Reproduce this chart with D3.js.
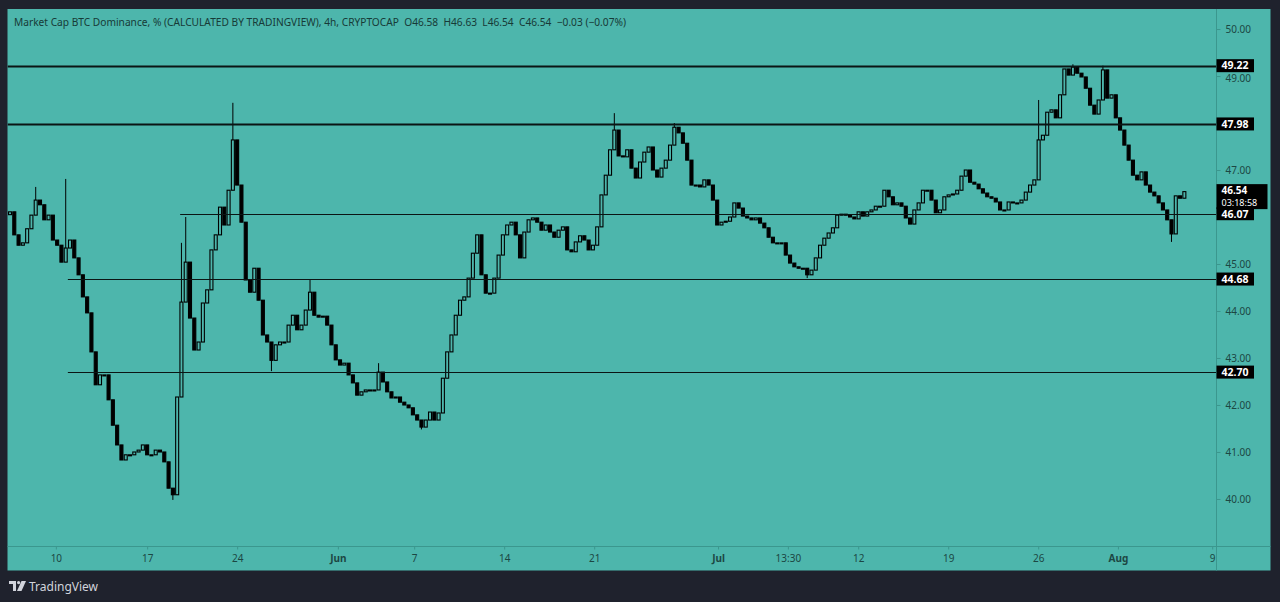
<!DOCTYPE html>
<html>
<head>
<meta charset="utf-8">
<title>Market Cap BTC Dominance</title>
<script src="https://cdn.jsdelivr.net/npm/d3@7"></script>
<style>
  html, body { margin: 0; padding: 0; background: #1f222d; }
  svg { display: block; font-family: "Noto Sans", "DejaVu Sans", sans-serif; }
</style>
</head>
<body>
<svg id="chart" width="1280" height="602"></svg>
<script>
// 8h bars, close of each bar (open = previous close)
const firstOpen = 46.05;
const closes = [
  46.11, 45.62, 45.40, 45.45, 45.75, 46.04, 46.36, 46.26, 45.94, 46.04,
  45.51, 45.40, 45.04, 45.34, 45.51, 45.13, 44.77, 44.30, 43.96, 43.13,
  42.43, 42.64, 42.64, 42.11, 41.57, 41.15, 40.83, 40.94, 40.94, 41.00,
  41.04, 41.15, 40.94, 40.94, 41.04, 41.00, 40.79, 40.23, 40.09, 42.17,
  44.19, 45.04, 43.85, 43.17, 43.34, 44.17, 44.45, 45.30, 45.62, 46.21,
  45.83, 46.57, 47.64, 46.68, 45.89, 44.66, 44.40, 44.91, 44.23, 43.49,
  43.34, 42.95, 43.28, 43.34, 43.34, 43.70, 43.91, 43.60, 43.70, 44.02,
  44.40, 43.91, 43.87, 43.89, 43.70, 43.28, 42.96, 42.85, 42.89, 42.64,
  42.47, 42.21, 42.28, 42.32, 42.32, 42.32, 42.70, 42.49, 42.28, 42.15,
  42.17, 42.06, 42.00, 41.94, 41.79, 41.68, 41.53, 41.68, 41.85, 41.68,
  41.83, 42.57, 43.13, 43.49, 43.91, 44.23, 44.30, 44.70, 45.23, 45.62,
  44.77, 44.38, 44.38, 44.70, 45.19, 45.62, 45.83, 45.89, 45.62, 45.13,
  45.68, 45.94, 45.98, 45.89, 45.72, 45.83, 45.68, 45.57, 45.72, 45.79,
  45.30, 45.26, 45.47, 45.60, 45.51, 45.30, 45.40, 45.79, 46.47, 46.89,
  47.43, 47.85, 47.30, 47.28, 47.43, 47.04, 46.83, 47.17, 47.38, 47.49,
  47.00, 46.85, 47.04, 47.21, 47.53, 47.91, 47.79, 47.57, 47.21, 46.68,
  46.68, 46.64, 46.79, 46.68, 46.36, 45.83, 45.89, 45.91, 46.00, 46.30,
  46.19, 46.02, 45.98, 45.94, 45.98, 45.87, 45.77, 45.57, 45.45, 45.45,
  45.45, 45.19, 45.02, 44.94, 44.91, 44.91, 44.77, 44.87, 45.13, 45.40,
  45.55, 45.66, 45.77, 46.04, 46.06, 46.04, 46.00, 45.96, 46.11, 46.02,
  46.11, 46.15, 46.23, 46.23, 46.57, 46.43, 46.26, 46.30, 46.23, 45.98,
  45.85, 46.15, 46.30, 46.57, 46.57, 46.36, 46.09, 46.15, 46.43, 46.47,
  46.49, 46.57, 46.87, 47.00, 46.74, 46.70, 46.60, 46.51, 46.43, 46.40,
  46.32, 46.15, 46.15, 46.32, 46.30, 46.30, 46.36, 46.53, 46.68, 46.79,
  47.64, 47.74, 48.23, 48.28, 48.11, 48.60, 49.15, 49.02, 49.19, 49.06,
  48.98, 48.74, 48.38, 48.19, 48.49, 49.13, 48.53, 48.60, 48.11, 47.85,
  47.53, 47.21, 46.89, 46.79, 46.96, 46.68, 46.53, 46.45, 46.30, 46.15,
  45.94, 45.64, 46.45, 46.40, 46.54
];

// bars whose wick reaches past the body
const wickBars  = [6, 13, 38, 40, 41, 52, 61, 70, 86, 96, 141, 155, 186, 240, 248, 255, 271];
const wickHighs = [46.64, 46.81, null, 45.45, 46.00, 48.43, null, 44.66, 42.89, null, 48.21, 48.00, null, 48.49, 49.25, 49.22, null];
const wickLows  = [null, null, 39.98, null, null, null, 42.72, null, null, 41.48, null, null, 44.70, null, null, null, 45.47];

// horizontal levels and the bar where each one starts
const levels = [49.22, 47.98, 46.07, 44.68, 42.70];
const levelStartBar = [-1, -1, 39.7, 13.5, 13.5];

const priceTicks = [40, 41, 42, 43, 44, 45, 47, 49, 50];
const timeLabels = ["10", "17", "24", "Jun", "7", "14", "21", "Jul", "13:30", "12", "19", "26", "Aug", "9"];
const timeBars = [10.7, 32.0, 53.0, 76.5, 94.3, 115.3, 136.3, 165.2, 181.5, 197.9, 218.9, 239.9, 258.5, 280.5];
const monthLabels = ["Jun", "Jul", "Aug"];

const lastPrice = 46.54;
const countdown = "03:18:58";
const header = "Market Cap BTC Dominance, % (CALCULATED BY TRADINGVIEW), 4h, CRYPTOCAP  O46.58  H46.63  L46.54  C46.54  \u22120.03 (\u22120.07%)";

// ---------------------------------------------------------------
const teal = "#4db6ac";
const axisLine = "#3b978e";
const axisText = "#1c4743";
const heavy = new Set([49.22, 47.98]);

const plotL = 7.5, plotR = 1216.5, plotT = 9, plotB = 546.5;
const svg = d3.select("#chart");

svg.append("rect").attr("x", 7.5).attr("y", 9).attr("width", 1263).attr("height", 561.5).attr("fill", teal);

const x = d3.scaleLinear().domain([-0.583, 281.5]).range([plotL, plotR]);
const y = d3.scaleLinear().domain([38.989, 50.426]).range([plotB, plotT]);

// candles
const bars = closes.map((c, i) => {
  const o = i === 0 ? firstOpen : closes[i - 1];
  let h = Math.max(o, c), l = Math.min(o, c);
  const k = wickBars.indexOf(i);
  if (k >= 0) {
    if (wickHighs[k] != null) h = Math.max(h, wickHighs[k]);
    if (wickLows[k] != null) l = Math.min(l, wickLows[k]);
  }
  return { i, o, c, h, l };
});

svg.append("clipPath").attr("id", "plot")
  .append("rect").attr("x", plotL).attr("y", plotT).attr("width", plotR - plotL).attr("height", plotB - plotT);

const g = svg.append("g").attr("clip-path", "url(#plot)");

g.selectAll("line.wick").data(bars).join("line")
  .attr("class", "wick")
  .attr("x1", d => x(d.i)).attr("x2", d => x(d.i))
  .attr("y1", d => y(d.h)).attr("y2", d => y(d.l))
  .attr("stroke", "#000").attr("stroke-width", 1);

const bw = 3;
g.selectAll("rect.body").data(bars).join("rect")
  .attr("class", "body")
  .attr("x", d => x(d.i) - bw / 2)
  .attr("width", bw)
  .attr("y", d => y(Math.max(d.o, d.c)))
  .attr("height", d => Math.max(1, Math.abs(y(d.o) - y(d.c))))
  .attr("fill", d => d.c >= d.o ? teal : "#000")
  .attr("stroke", "#000").attr("stroke-width", 1.1);

// level lines
g.selectAll("line.level").data(levels).join("line")
  .attr("class", "level")
  .attr("x1", (d, i) => levelStartBar[i] < 0 ? plotL : x(levelStartBar[i]))
  .attr("x2", plotR)
  .attr("y1", d => Math.round(y(d)) + 0.5).attr("y2", d => Math.round(y(d)) + 0.5)
  .attr("stroke", "#0b1514")
  .attr("stroke-width", d => heavy.has(d) ? 1.8 : 1);

// price axis
const yAxis = svg.append("g").attr("transform", `translate(${plotR},0)`)
  .call(d3.axisRight(y).tickValues(priceTicks).tickFormat(d3.format(".2f")).tickSize(4).tickPadding(5));
yAxis.select(".domain").remove();
yAxis.selectAll("line").attr("stroke", axisLine);
yAxis.selectAll("text").attr("fill", axisText).attr("font-size", 10).attr("font-family", "Noto Sans, sans-serif");
// the 49.00 label sits just under the 49.22 box, as in the original
yAxis.selectAll(".tick").filter(d => d === 49).select("text").attr("dy", "0.55em");

svg.append("line").attr("x1", plotR).attr("x2", plotR).attr("y1", plotT).attr("y2", 570.5)
  .attr("stroke", axisLine).attr("stroke-width", 1);

// time axis
const xAxis = svg.append("g").attr("transform", `translate(0,${plotB})`)
  .call(d3.axisBottom(x).tickValues(timeBars).tickFormat((d, i) => timeLabels[i]).tickSize(3).tickPadding(5));
xAxis.select(".domain").remove();
xAxis.selectAll("line").attr("stroke", axisLine);
xAxis.selectAll("text").attr("fill", axisText).attr("font-size", 10)
  .attr("font-family", "Noto Sans, sans-serif")
  .attr("font-weight", (d, i) => monthLabels.includes(timeLabels[i]) ? "bold" : "normal");

svg.append("line").attr("x1", plotL).attr("x2", 1270.5).attr("y1", plotB).attr("y2", plotB)
  .attr("stroke", axisLine).attr("stroke-width", 1);

// last price box with countdown
const ly = y(lastPrice);
svg.append("rect").attr("x", plotR).attr("y", ly - 7.5).attr("width", 51).attr("height", 25).attr("fill", "#000");
svg.append("text").attr("x", plotR + 5).attr("y", ly + 2.2).text(d3.format(".2f")(lastPrice))
  .attr("fill", "#fff").attr("font-size", 10).attr("font-weight", "bold");
svg.append("text").attr("x", plotR + 5).attr("y", ly + 14.2).text(countdown)
  .attr("fill", "#fff").attr("font-size", 9);

// level price boxes
const lb = svg.append("g").selectAll("g").data(levels).join("g")
  .attr("transform", d => `translate(${plotR},${y(d)})`);
lb.append("rect").attr("x", 0).attr("y", -6.5).attr("width", 37.5).attr("height", 13).attr("fill", "#000");
lb.append("text").attr("x", 5).attr("y", 3.8).text(d => d3.format(".2f")(d))
  .attr("fill", "#fff").attr("font-size", 10.5).attr("font-weight", "bold");

// legend line
svg.append("text").attr("x", 14).attr("y", 26).text(header)
  .attr("fill", "#173a37").attr("font-size", 11)
  .attr("textLength", 612).attr("lengthAdjust", "spacingAndGlyphs")
  .style("white-space", "pre");

// footer logo
const logo = svg.append("g").attr("transform", "translate(9,581)").attr("fill", "#d1d4dc");
logo.append("path").attr("d", "M0 0H7V10H4V3H0Z");
logo.append("circle").attr("cx", 9.6).attr("cy", 1.6).attr("r", 1.6);
logo.append("path").attr("d", "M12.5 0H17L12.5 10H8Z");
svg.append("text").attr("x", 29).attr("y", 591).text("TradingView")
  .attr("fill", "#d1d4dc").attr("font-size", 12);
</script>
</body>
</html>
